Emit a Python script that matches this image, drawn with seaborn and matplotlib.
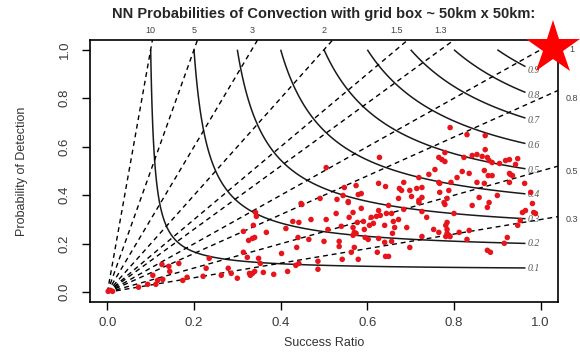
import numpy as np
import pandas as pd
import seaborn as sns
import matplotlib
matplotlib.use("Agg")
import matplotlib.pyplot as plt

# Verification points (success ratio, probability of detection)
success_ratio = [
    0.002, 0.007, 0.012, 0.072, 0.093, 0.112, 0.105, 0.116, 0.128, 0.126,
    0.142, 0.144, 0.165, 0.174, 0.184, 0.221, 0.228, 0.235, 0.263, 0.279,
    0.286, 0.300, 0.314, 0.314, 0.323, 0.326, 0.328, 0.342, 0.344, 0.337,
    0.367, 0.335, 0.340, 0.349, 0.353, 0.340, 0.335, 0.330, 0.360, 0.384,
    0.402, 0.412, 0.416, 0.428, 0.442, 0.440, 0.437, 0.435, 0.442, 0.449,
    0.470, 0.465, 0.486, 0.486, 0.500, 0.505, 0.509, 0.528, 0.535, 0.535,
    0.540, 0.542, 0.556, 0.567, 0.558, 0.567, 0.570, 0.567, 0.574, 0.577,
    0.570, 0.563, 0.579, 0.586, 0.591, 0.593, 0.595, 0.602, 0.605, 0.614,
    0.609, 0.621, 0.630, 0.626, 0.623, 0.626, 0.640, 0.644, 0.642, 0.649,
    0.649, 0.656, 0.660, 0.672, 0.663, 0.658, 0.691, 0.640, 0.656, 0.698,
    0.684, 0.719, 0.726, 0.737, 0.726, 0.753, 0.765, 0.777, 0.779, 0.784,
    0.781, 0.784, 0.788, 0.781, 0.791, 0.784, 0.800, 0.812, 0.830, 0.835,
    0.842, 0.877, 0.881, 0.877, 0.884, 0.916, 0.923, 0.947, 0.953, 0.958,
    0.965, 0.981, 0.984, 0.988, 0.628, 0.505, 0.626, 0.642, 0.574, 0.547,
    0.586, 0.579, 0.544, 0.556, 0.530, 0.491, 0.447, 0.791, 0.830, 0.872,
    0.872, 0.779, 0.765, 0.772, 0.779, 0.823, 0.842, 0.853, 0.865, 0.877,
    0.881, 0.888, 0.905, 0.919, 0.928, 0.947, 0.942, 0.756, 0.742, 0.819,
    0.835, 0.870, 0.879, 0.928, 0.930, 0.935, 0.807, 0.765, 0.767, 0.793,
    0.719, 0.684, 0.674, 0.679, 0.714, 0.698, 0.726, 0.767, 0.788, 0.853,
    0.870, 0.888, 0.928, 0.963, 0.784, 0.858, 0.900, 0.672, 0.702, 0.719,
    0.726, 0.977,
]
prob_detection = [
    0.004, 0.008, 0.004, 0.021, 0.033, 0.033, 0.070, 0.049, 0.053, 0.115,
    0.107, 0.086, 0.119, 0.049, 0.062, 0.066, 0.099, 0.140, 0.070, 0.099,
    0.078, 0.058, 0.251, 0.165, 0.144, 0.214, 0.078, 0.329, 0.313, 0.276,
    0.247, 0.222, 0.226, 0.140, 0.119, 0.086, 0.078, 0.070, 0.082, 0.074,
    0.160, 0.263, 0.086, 0.292, 0.288, 0.226, 0.185, 0.111, 0.119, 0.362,
    0.300, 0.218, 0.128, 0.095, 0.210, 0.300, 0.259, 0.325, 0.189, 0.210,
    0.272, 0.136, 0.370, 0.329, 0.309, 0.267, 0.247, 0.235, 0.243, 0.288,
    0.185, 0.165, 0.136, 0.346, 0.292, 0.259, 0.226, 0.218, 0.276, 0.284,
    0.309, 0.313, 0.317, 0.337, 0.165, 0.222, 0.276, 0.325, 0.148, 0.148,
    0.358, 0.325, 0.292, 0.300, 0.267, 0.243, 0.267, 0.206, 0.210, 0.185,
    0.342, 0.370, 0.333, 0.309, 0.230, 0.259, 0.247, 0.370, 0.362, 0.288,
    0.276, 0.243, 0.235, 0.230, 0.230, 0.259, 0.325, 0.247, 0.218, 0.255,
    0.358, 0.350, 0.370, 0.173, 0.165, 0.202, 0.226, 0.276, 0.296, 0.329,
    0.337, 0.366, 0.329, 0.325, 0.556, 0.514, 0.449, 0.436, 0.440, 0.432,
    0.407, 0.403, 0.399, 0.374, 0.383, 0.387, 0.366, 0.679, 0.650, 0.646,
    0.588, 0.576, 0.556, 0.547, 0.539, 0.556, 0.564, 0.568, 0.560, 0.556,
    0.543, 0.535, 0.531, 0.543, 0.547, 0.551, 0.527, 0.506, 0.486, 0.498,
    0.490, 0.502, 0.481, 0.490, 0.486, 0.481, 0.473, 0.453, 0.449, 0.453,
    0.473, 0.453, 0.428, 0.420, 0.428, 0.420, 0.432, 0.412, 0.420, 0.453,
    0.449, 0.481, 0.453, 0.449, 0.387, 0.391, 0.399, 0.387, 0.395, 0.379,
    0.391, 0.412,
]

# Diagram reference lines
csi_levels = [0.1, 0.2, 0.3, 0.4, 0.5, 0.6, 0.7, 0.8, 0.9]
bias_values = [0.3, 0.5, 0.8, 1, 1.3, 1.5, 2, 3, 5, 10]
top_bias = [10, 5, 3, 2, 1.5, 1.3]
right_bias = [1, 0.8, 0.5, 0.3]
axis_ticks = [0.0, 0.2, 0.4, 0.6, 0.8, 1.0]

df = pd.DataFrame({"sr": success_ratio, "pod": prob_detection})

sns.set_style("white")
plt.rcParams['font.family'] = ['Liberation Sans', 'DejaVu Sans']

fig = plt.figure(figsize=(5.8, 3.52), dpi=100)
ax = fig.add_axes([90 / 580, 1 - 302 / 352, 468 / 580, 262 / 352])

# CSI contours (stop short of the right edge, where the labels sit)
sr_grid = np.linspace(0.001, 0.965, 500)
pod_grid = np.linspace(0.001, 1.0, 500)
X, Y = np.meshgrid(sr_grid, pod_grid)
Z = 1.0 / (1.0 / X + 1.0 / Y - 1.0)
ax.contour(X, Y, Z, levels=csi_levels, colors='#1a1a1a', linewidths=1.1)
for c in csi_levels:
    s = 0.985
    p = 1.0 / (1.0 / c - 1.0 / s + 1.0)
    ax.text(s, p, f"{c:g}", ha='center', va='center', fontsize=7,
            style='italic', color='#555555', family='Liberation Serif')

# bias lines
for b in bias_values:
    ax.plot([0, 2], [0, 2 * b], color='black', lw=1.0, ls=(0, (3.5, 2.8)))

for b in top_bias:
    ax.text(1 / b, 1.078, f"{b:g}", ha='center', va='center', fontsize=6.5,
            color='#444444', clip_on=False)
for b in right_bias:
    ax.text(1.072, b, f"{b:g}", ha='center', va='center', fontsize=6.5,
            color='#444444', clip_on=False)

sns.scatterplot(data=df, x="sr", y="pod", color='#e8141c', s=16,
                edgecolor='none', ax=ax, zorder=3)

ax.set_xlim(-0.04, 1.04)
ax.set_ylim(-0.04, 1.04)
ax.set_xticks(axis_ticks)
ax.set_yticks(axis_ticks)
ax.set_xticklabels([f"{t:.1f}" for t in axis_ticks])
ax.set_yticklabels([f"{t:.1f}" for t in axis_ticks], rotation=90, va='center')
ax.tick_params(axis='both', direction='out', length=6, width=1, color='black',
               labelsize=9.5, labelcolor='#3a3a3a', bottom=True, left=True)
ax.tick_params(axis='x', pad=5)
ax.tick_params(axis='y', pad=8)
for sp in ax.spines.values():
    sp.set_color('black')
    sp.set_linewidth(1.2)

ax.set_xlabel("Success Ratio", fontsize=9, color='#333333')
ax.set_ylabel("Probability of Detection", fontsize=9, color='#333333')
ax.xaxis.set_label_coords(0.5, -0.135)
ax.yaxis.set_label_coords(-0.132, 0.5)

fig.text(324 / 580, 1 - 14 / 352,
         "NN Probabilities of Convection with grid box ~ 50km x 50km:",
         ha='center', va='center', fontsize=10.5, fontweight='bold')

# red star in the top right corner
fig.add_artist(plt.Line2D([553 / 580], [1 - 47.7 / 352], marker='*',
                          markersize=41, color='red', markeredgewidth=0,
                          transform=fig.transFigure))

fig.savefig("out.png", dpi=100)
